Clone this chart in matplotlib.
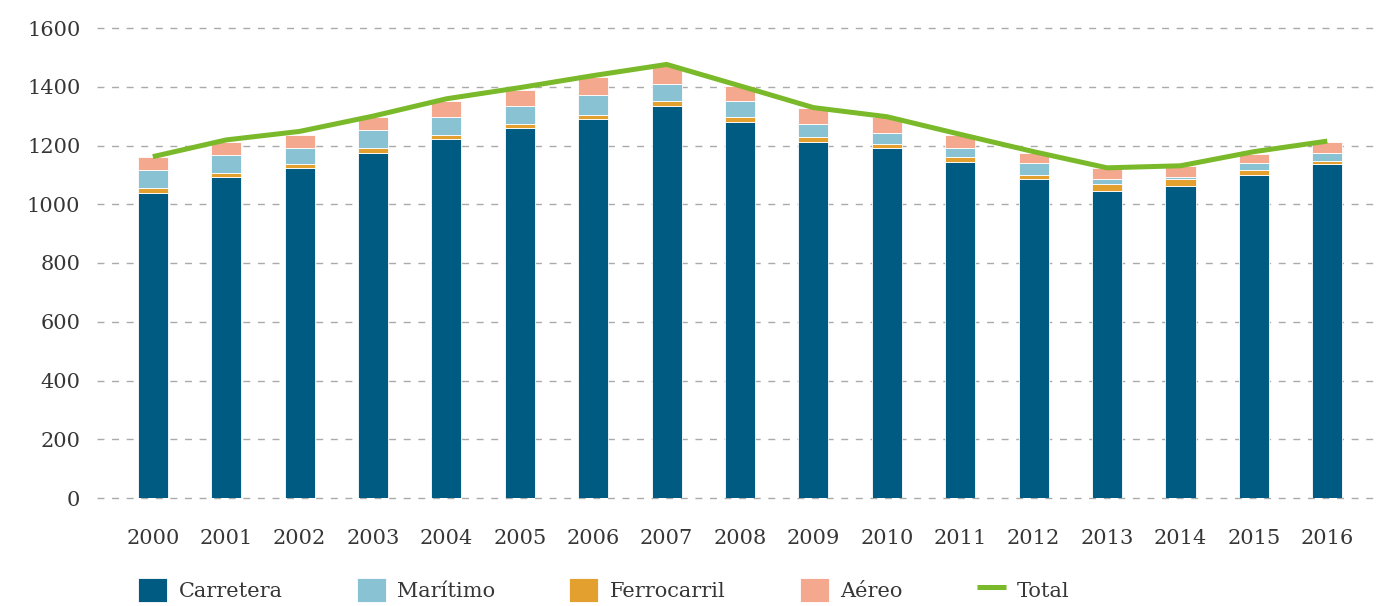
import matplotlib
matplotlib.use('Agg')
import matplotlib.pyplot as plt
import numpy as np

# Data
years = ['2000', '2001', '2002', '2003', '2004', '2005', '2006', '2007', '2008',
         '2009', '2010', '2011', '2012', '2013', '2014', '2015', '2016']
carretera = [1039, 1094, 1123, 1175, 1221, 1259, 1289, 1336, 1281,
             1213, 1191, 1145, 1085, 1046, 1063, 1101, 1138]
ferrocarril = [17, 13, 15, 16, 15, 15, 15, 14, 16, 16, 15, 16, 16, 24, 22, 16, 8]
maritimo = [59, 62, 55, 61, 61, 62, 69, 60, 53, 45, 38, 32, 38, 15, 9, 22, 29]
aereo = [46, 44, 43, 45, 53, 52, 59, 62, 54, 54, 53, 44, 36, 39, 37, 31, 38]
total = [1162, 1219, 1248, 1300, 1359, 1397, 1438, 1476, 1403,
         1329, 1298, 1238, 1179, 1124, 1131, 1179, 1215]
y_ticks = [0, 200, 400, 600, 800, 1000, 1200, 1400, 1600]

# Colours
c_carretera = '#005b82'
c_maritimo = '#89c2d3'
c_ferro = '#e3a02f'
c_aereo = '#f4a88e'
c_total = '#7ab929'
text_color = '#363636'

plt.rcParams['font.family'] = ['DejaVu Serif']
plt.rcParams['font.size'] = 15

fig = plt.figure(figsize=(13.85, 6.06), dpi=100)
ax = fig.add_axes([97 / 1385, 108 / 606, 1278 / 1385, 470 / 606])

x = np.arange(len(years))
w = 0.41
edge = dict(edgecolor='white', linewidth=0.6)

# Stacked bars: road at the bottom, then rail, sea and air
b1 = ax.bar(x, carretera, w, color=c_carretera, label='Carretera', **edge)
bottom = np.array(carretera)
b3 = ax.bar(x, ferrocarril, w, bottom=bottom, color=c_ferro, label='Ferrocarril', **edge)
bottom = bottom + np.array(ferrocarril)
b2 = ax.bar(x, maritimo, w, bottom=bottom, color=c_maritimo, label='Marítimo', **edge)
bottom = bottom + np.array(maritimo)
b4 = ax.bar(x, aereo, w, bottom=bottom, color=c_aereo, label='Aéreo', **edge)

# Total line drawn over the bars
line, = ax.plot(x, total, color=c_total, linewidth=3.6, label='Total', zorder=5,
                solid_capstyle='butt', solid_joinstyle='miter')

# Axes styling
ax.set_xlim(-0.76, 16.65)
ax.set_ylim(0, 1600)
ax.set_yticks(y_ticks)
ax.set_xticks(x)
ax.set_xticklabels(years)
ax.tick_params(axis='both', length=0, colors=text_color, labelsize=15)
ax.tick_params(axis='x', pad=22)
ax.tick_params(axis='y', pad=12)
for s in ax.spines.values():
    s.set_visible(False)
ax.set_axisbelow(True)
ax.yaxis.grid(True, color='#aaaaaa', linewidth=1.0, dashes=(5, 5.5))
for gl in ax.get_ygridlines():
    gl.set_clip_on(False)

# Legend at the bottom
leg = fig.legend([b1, b2, b3, b4, line], ['Carretera', 'Marítimo', 'Ferrocarril', 'Aéreo', 'Total'],
                 loc='center left', bbox_to_anchor=(138 / 1385, 16 / 606), ncol=5,
                 frameon=False, fontsize=15, handlelength=1.4, handleheight=1.4,
                 handletextpad=0.55, columnspacing=3.55, borderpad=0, borderaxespad=0)
for t in leg.get_texts():
    t.set_color(text_color)

fig.savefig('out.png', dpi=100)
